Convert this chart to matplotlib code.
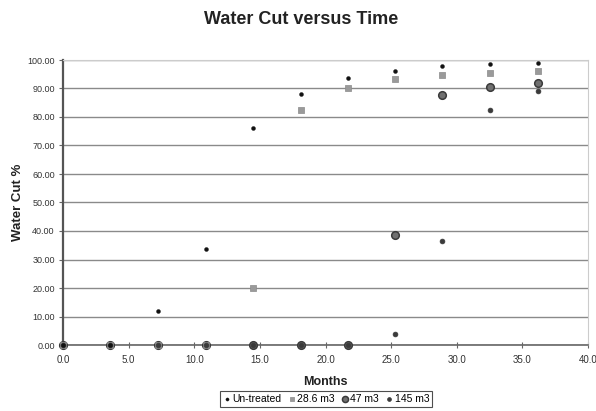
import numpy as np
import matplotlib.pyplot as plt

plt.rcParams['font.family'] = ['Liberation Sans', 'DejaVu Sans']

# --------------------------
# Data
# --------------------------
months = [0, 3.6, 7.2, 10.9, 14.5, 18.1, 21.7, 25.3, 28.9, 32.5, 36.2]
untreated = [0, 0, 11.8, 33.6, 76.2, 87.9, 93.7, 96.2, 97.9, 98.5, 98.8]
m3_28_6 = [0, 0, 0, 0, 20.0, 82.3, 90.0, 93.2, 94.6, 95.5, 96.1]
m3_47 = [0, 0, 0, 0, 0, 0, 0, 38.6, 87.6, 90.6, 92.0]
m3_145 = [0, 0, 0, 0, 0, 0, 0, 3.75, 36.6, 82.3, 89.0]

series_names = ["Un-treated", "28.6 m3", "47 m3", "145 m3"]
x_ticks = [0, 5, 10, 15, 20, 25, 30, 35, 40]
y_ticks = [0, 10, 20, 30, 40, 50, 60, 70, 80, 90, 100]

# --------------------------
# Plot
# --------------------------
fig = plt.figure(figsize=(5.96, 4.11), dpi=100)
ax = fig.add_axes([63 / 596, 1 - 345 / 411, 525 / 596, 285 / 411])

ax.scatter(months, m3_47, s=30, marker='o', color='#707070', edgecolors='#3a3a3a',
           linewidths=1.1, zorder=3, clip_on=False, label=series_names[2])
ax.scatter(months, m3_28_6, s=13, marker='s', color='#9a9a9a', edgecolors='#8a8a8a',
           linewidths=0.5, zorder=4, clip_on=False, label=series_names[1])
ax.scatter(months, m3_145, s=12, marker='o', color='#3a3a3a', edgecolors='#3a3a3a',
           linewidths=0.5, zorder=5, clip_on=False, label=series_names[3])
ax.scatter(months, untreated, s=8, marker='o', color='#111111', edgecolors='#111111',
           linewidths=0.3, zorder=6, clip_on=False, label=series_names[0])

ax.set_xlim(0, 40)
ax.set_ylim(0, 100)
ax.set_xticks(x_ticks)
ax.set_xticklabels([f"{v:.1f}" for v in x_ticks], fontsize=7, color='#333333')
ax.set_yticks(y_ticks)
ax.set_yticklabels([f"{v:.2f}" for v in y_ticks], fontsize=6.5, color='#333333')
ax.tick_params(axis='both', length=3, width=0.8, color='#666666', pad=3)
ax.tick_params(axis='x', direction='inout', length=4, pad=5)

ax.grid(axis='y', color='#8a8a8a', linewidth=1.0, zorder=0)
ax.set_axisbelow(True)
for side in ['top', 'right']:
    ax.spines[side].set_color('#cccccc')
    ax.spines[side].set_linewidth(0.8)
ax.spines['left'].set_color('#555555')
ax.spines['left'].set_linewidth(1.6)
ax.spines['bottom'].set_color('#666666')
ax.spines['bottom'].set_linewidth(1.2)

ax.set_xlabel("Months", fontsize=9, fontweight='bold', color='#222222', labelpad=8)
ax.set_ylabel("Water Cut %", fontsize=9.5, fontweight='bold', color='#222222', labelpad=2)
fig.text(0.505, 1 - 20 / 411, "Water Cut versus Time", ha='center', va='center',
         fontsize=13, fontweight='bold', color='#222222')

handles, labels = ax.get_legend_handles_labels()
order = [3, 1, 0, 2]
leg = fig.legend([handles[i] for i in order], [labels[i] for i in order],
                 loc='center', bbox_to_anchor=(326 / 596, 1 - 399 / 411), ncol=4,
                 fontsize=7.5, frameon=True, fancybox=False, handletextpad=0.1,
                 columnspacing=0.6, handlelength=0.8, borderpad=0.25, markerscale=0.8)
leg.get_frame().set_edgecolor('#222222')
leg.get_frame().set_linewidth(0.8)

plt.savefig("out.png", dpi=100)
